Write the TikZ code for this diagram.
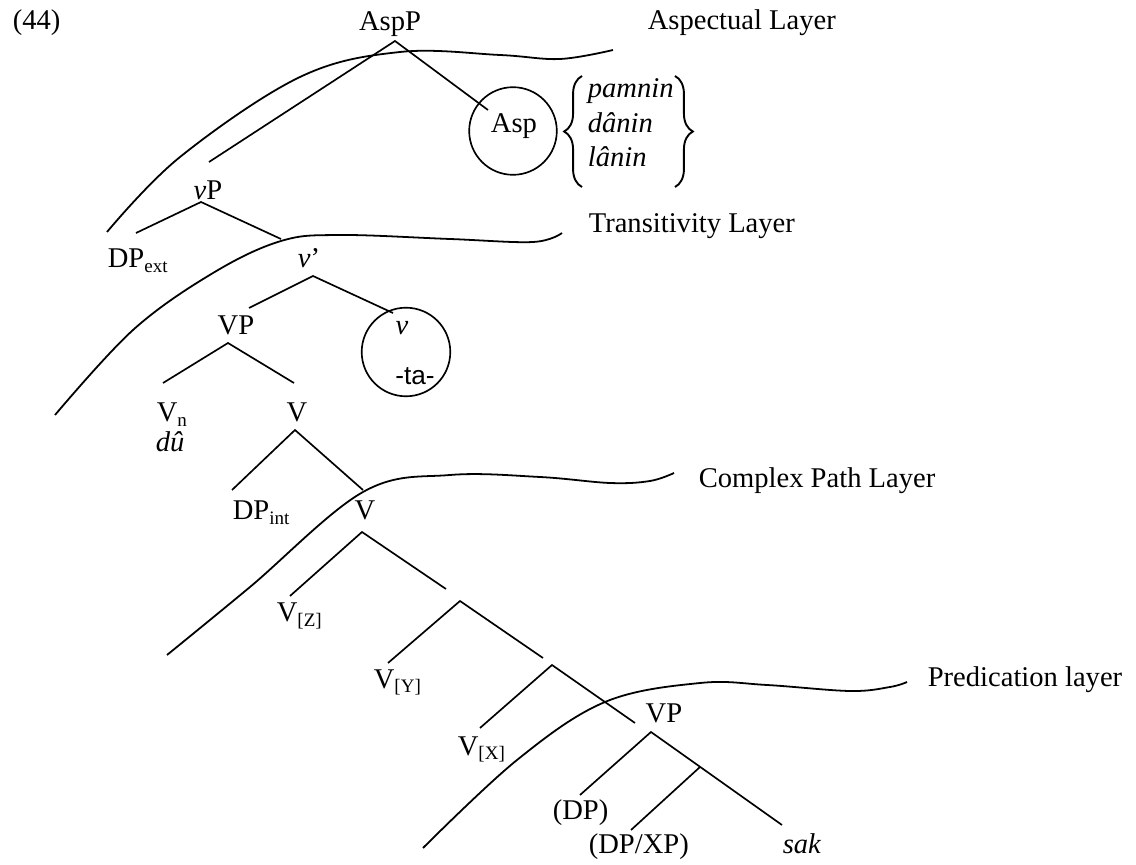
\documentclass[tikz,border=0pt]{standalone}
\usepackage{fontspec}
\setmainfont{Liberation Serif}
\newfontfamily\sansfnt{Liberation Sans}
\usetikzlibrary{decorations.pathreplacing}
\begin{document}
\begin{tikzpicture}[x=0.42pt, y=-0.42pt, line width=0.7pt,
  lbl/.style={inner sep=0pt, font=\fontsize{12}{14}\selectfont},
  laylbl/.style={inner sep=0pt, font=\fontsize{12}{14}\selectfont},
  ring/.style={circle, draw, inner sep=0pt, minimum size=#1},
  layer/.style={line width=0.75pt},
  bracestyle/.style={decorate, decoration={brace, amplitude=7.5pt}, line width=0.8pt}]
\useasboundingbox (0,0) rectangle (1136,865);
\fill[white] (0,0) rectangle (1136,865);

% ---- labels ----
\node[lbl, anchor=base west] (ex) at (12,30) {(44)};
\node[lbl, anchor=base] (aspp) at (390,31) {AspP};
\node[laylbl, anchor=base west] (layA) at (647,30) {Aspectual Layer};
\node[ring=36.8pt] (aspc) at (513,131) {};
\node[lbl, anchor=base] (asp) at (514,133) {Asp};
\node[lbl, anchor=base west] (w1) at (587,98) {\textit{pamnin}};
\node[lbl, anchor=base west] (w2) at (587,133) {\textit{dânin}};
\node[lbl, anchor=base west] (w3) at (587,167) {\textit{lânin}};
\node[lbl, anchor=base] (vp) at (208,200) {\textit{v}P};
\node[lbl, anchor=base west] (dpext) at (107,268) {DP\textsubscript{ext}};
\node[laylbl, anchor=base west] (layT) at (588,233) {Transitivity Layer};
\node[lbl, anchor=base] (vbar) at (309,268) {\textit{v}’};
\node[lbl, anchor=base] (VP1) at (236,335) {VP};
\node[ring=37.2pt] (vc) at (406,352) {};
\node[lbl, anchor=base] (vhead) at (402,335) {\textit{v}};
\node[inner sep=0pt, anchor=base, font=\sansfnt\fontsize{11}{13}\selectfont] (ta) at (415,385) {-ta-};
\node[lbl, anchor=base west] (vn) at (156,422) {V\textsubscript{n}};
\node[lbl, anchor=base west] (du) at (155,452) {\textit{dû}};
\node[lbl, anchor=base] (V1) at (297,422) {V};
\node[lbl, anchor=base west] (dpint) at (232,520) {DP\textsubscript{int}};
\node[lbl, anchor=base] (V2) at (365,520) {V};
\node[laylbl, anchor=base west] (layC) at (698,487) {Complex Path Layer};
\node[lbl, anchor=base west] (vz) at (276,622) {V\textsubscript{[Z]}};
\node[lbl, anchor=base west] (vy) at (373,688) {V\textsubscript{[Y]}};
\node[lbl, anchor=base west] (vx) at (457,755) {V\textsubscript{[X]}};
\node[lbl, anchor=base] (VP2) at (664,722) {VP};
\node[laylbl, anchor=base west] (layP) at (927,687) {Predication layer};
\node[lbl, anchor=base west] (dp) at (552,820) {(DP)};
\node[lbl, anchor=base west] (dpxp) at (588,853) {(DP/XP)};
\node[lbl, anchor=base west] (sak) at (782,853) {\textit{sak}};

% ---- braces ----
\coordinate (lbB) at (582,187); \coordinate (lbT) at (582,76);
\coordinate (rbT) at (675,76); \coordinate (rbB) at (675,187);
\draw[bracestyle] (lbB) -- (lbT);
\draw[bracestyle] (rbT) -- (rbB);

% ---- branch points ----
\coordinate (a1) at (395,41);  \coordinate (a1l) at (209,162); \coordinate (a1r) at (488,110);
\coordinate (a2) at (201,202); \coordinate (a2l) at (136,233); \coordinate (a2r) at (281,239);
\coordinate (a3) at (313,276); \coordinate (a3l) at (249,308); \coordinate (a3r) at (393,313);
\coordinate (a4) at (228,343); \coordinate (a4l) at (163,383); \coordinate (a4r) at (294,383);
\coordinate (a5) at (295,430); \coordinate (a5l) at (232,490); \coordinate (a5r) at (363,490);
\coordinate (a6) at (362,532); \coordinate (a6l) at (290,596); \coordinate (a6r) at (446,589);
\coordinate (a7) at (460,601); \coordinate (a7l) at (388,663); \coordinate (a7r) at (543,658);
\coordinate (a8) at (552,665); \coordinate (a8l) at (480,728); \coordinate (a8r) at (635,723);
\coordinate (a9) at (651,732); \coordinate (a9l) at (580,795); \coordinate (a9r) at (782,825);
\coordinate (a10) at (700,767); \coordinate (a10l) at (631,830);

\foreach \n in {1,...,9}{
  \draw (a\n l) -- (a\n) -- (a\n r);
}
\draw (a10) -- (a10l);

% ---- layer boundaries ----
\draw[layer] plot[smooth, tension=0.6] coordinates
  {(107,232) (180,157) (300,77) (400,52) (500,55) (560,59) (613,50)};
\draw[layer] plot[smooth, tension=0.6] coordinates
  {(55,415) (133,330) (213,273) (281,241) (340,235) (450,239) (533,242) (562,233)};
\draw[layer] plot[smooth, tension=0.6] coordinates
  {(167,655) (250,587) (363,492) (450,475) (540,477) (610,483) (650,481) (674,473)};
\draw[layer] plot[smooth, tension=0.6] coordinates
  {(423,848) (517,760) (605,702) (700,683) (767,685) (850,691) (890,687) (907,682)};
\end{tikzpicture}
\end{document}
